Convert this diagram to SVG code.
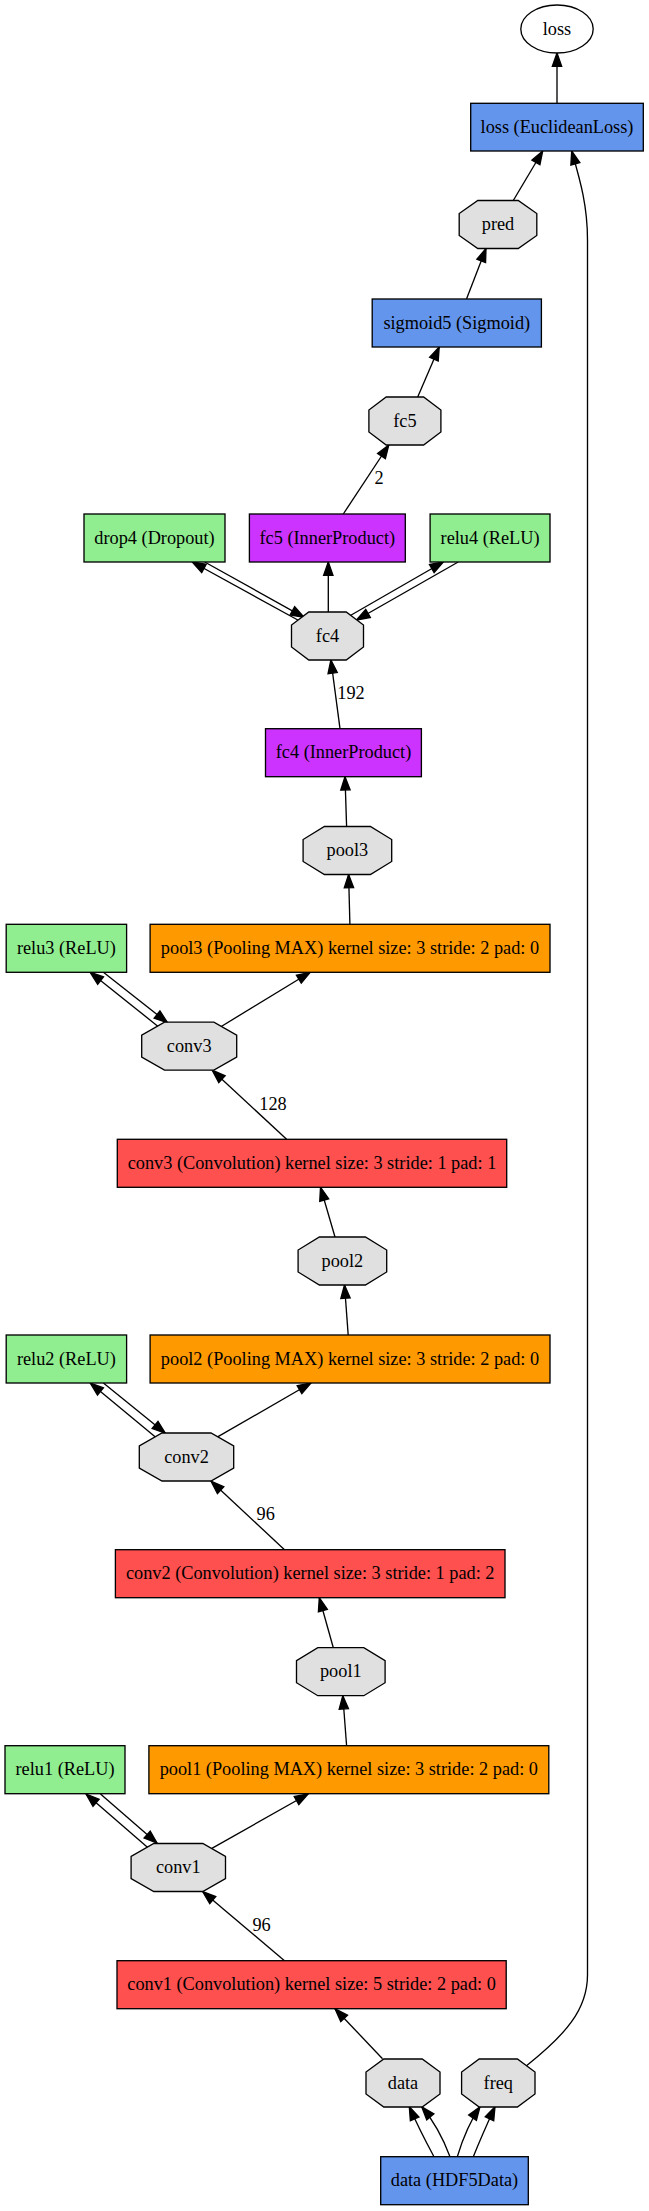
<svg xmlns="http://www.w3.org/2000/svg" width="649" height="2211" viewBox="0 0 649 2211">
<style>
.n{stroke:#000;stroke-width:1.33}
.blob{fill:#E0E0E0}
.blue{fill:#6495ED}
.green{fill:#90EE90}
.purple{fill:#CC33FF}
.orange{fill:#FF9900}
.red{fill:#FF5050}
text{font-family:"Liberation Serif","Times New Roman",serif;font-size:18.3px;fill:#000;text-anchor:middle}
.e path,.e line{stroke:#000;stroke-width:1.33;fill:none;marker-end:url(#ah)}
</style>
<defs>
<marker id="ah" markerUnits="userSpaceOnUse" markerWidth="16" markerHeight="12" viewBox="-15 -6 16 12" refX="0" refY="0" orient="auto">
<path d="M0,0 L-13.3,-4.67 L-13.3,4.67 z" fill="#000" stroke="#000" stroke-width="1.33"/>
</marker>
</defs>
<rect width="649" height="2211" fill="#fff"/>
<g class="e" id="connectors">
<line x1="557" y1="103.3" x2="557" y2="53"/>
<line x1="513.3" y1="200.5" x2="542.7" y2="151"/>
<path d="M526.5,2065.7 C565,2035 587.5,2010 587.5,1975 L587.5,240 C587.5,205 580,180 571.7,151"/>
<line x1="466.5" y1="299" x2="486" y2="248.5"/>
<line x1="417.7" y1="397" x2="439.2" y2="347"/>
<line x1="343.3" y1="514" x2="388.8" y2="445"/>
<line x1="328.3" y1="612" x2="328.3" y2="562"/>
<line x1="297.8" y1="620" x2="192.3" y2="562"/>
<line x1="204.7" y1="562" x2="304" y2="617.3"/>
<line x1="349.5" y1="616" x2="443.3" y2="562"/>
<line x1="458.2" y1="562" x2="356.5" y2="620"/>
<line x1="340" y1="728.7" x2="330.9" y2="660"/>
<line x1="346.6" y1="826.5" x2="345" y2="776.7"/>
<line x1="349.9" y1="924.3" x2="348.6" y2="874.5"/>
<line x1="158.4" y1="1026.7" x2="90.2" y2="972.3"/>
<line x1="103.4" y1="972.3" x2="167.5" y2="1022.7"/>
<line x1="219.2" y1="1027.7" x2="310.2" y2="972.3"/>
<line x1="286.6" y1="1139.3" x2="212.2" y2="1070.2"/>
<line x1="335" y1="1237" x2="320.5" y2="1187.3"/>
<line x1="348.2" y1="1335" x2="344.5" y2="1285"/>
<line x1="156.3" y1="1437.7" x2="90.2" y2="1383"/>
<line x1="103.4" y1="1383" x2="165.4" y2="1433.3"/>
<line x1="216.3" y1="1437.7" x2="311" y2="1383"/>
<line x1="284.5" y1="1549.7" x2="210.9" y2="1481"/>
<line x1="333.3" y1="1647.7" x2="319.3" y2="1597.7"/>
<line x1="346.6" y1="1745.7" x2="342.8" y2="1695.7"/>
<line x1="148" y1="1847.7" x2="86" y2="1794"/>
<line x1="100.5" y1="1794" x2="157.2" y2="1843.3"/>
<line x1="210.1" y1="1849.3" x2="308.1" y2="1794"/>
<line x1="284.5" y1="1960.7" x2="202.6" y2="1891.5"/>
<line x1="382.5" y1="2058.7" x2="335" y2="2008.7"/>
<path d="M434,2156.7 C425,2140 416,2122 409.3,2106.7"/>
<path d="M450,2156.7 C443,2138 433,2120 421.7,2106.7"/>
<path d="M457.3,2156.7 C463,2138 471,2120 480,2106.7"/>
<path d="M473.3,2156.7 C480,2140 488,2122 495,2106.7"/>
<text x="379" y="484">2</text>
<text x="351" y="699">192</text>
<text x="273" y="1110">128</text>
<text x="265.7" y="1520">96</text>
<text x="261.6" y="1930.5">96</text>
</g>
<g id="loss"><ellipse class="n" cx="557" cy="29" rx="36.2" ry="24" fill="#fff"/><text x="557" y="34.5">loss</text></g>
<g id="loss_layer"><rect class="n blue" x="470.7" y="103.3" width="172.6" height="47.7"/><text x="557" y="132.7">loss (EuclideanLoss)</text></g>
<g id="pred"><polygon class="n blob" points="477.8,200.5 518.2,200.5 536.8,213.5 536.8,235.5 518.2,248.5 477.8,248.5 459.2,235.5 459.2,213.5"/><text x="498" y="230">pred</text></g>
<g id="sigmoid5"><rect class="n blue" x="372.2" y="299" width="169.2" height="48"/><text x="456.8" y="328.5">sigmoid5 (Sigmoid)</text></g>
<g id="fc5"><polygon class="n blob" points="386.2,397 423.6,397 440.9,410 440.9,432 423.6,445 386.2,445 368.9,432 368.9,410"/><text x="404.9" y="426.5">fc5</text></g>
<g id="drop4"><rect class="n green" x="84" y="514" width="141" height="48"/><text x="154.5" y="543.5">drop4 (Dropout)</text></g>
<g id="fc5_layer"><rect class="n purple" x="249.4" y="514" width="155.9" height="48"/><text x="327.3" y="543.5">fc5 (InnerProduct)</text></g>
<g id="relu4"><rect class="n green" x="430.1" y="514" width="119.9" height="48"/><text x="490.1" y="543.5">relu4 (ReLU)</text></g>
<g id="fc4"><polygon class="n blob" points="308.8,612 346.2,612 363.5,625 363.5,647 346.2,660 308.8,660 291.5,647 291.5,625"/><text x="327.5" y="641.5">fc4</text></g>
<g id="fc4_layer"><rect class="n purple" x="265.5" y="728.7" width="155.9" height="48"/><text x="343.5" y="758.2">fc4 (InnerProduct)</text></g>
<g id="pool3"><polygon class="n blob" points="324.4,826.5 370.4,826.5 391.7,839.5 391.7,861.5 370.4,874.5 324.4,874.5 303.1,861.5 303.1,839.5"/><text x="347.4" y="856">pool3</text></g>
<g id="relu3"><rect class="n green" x="6.2" y="924.3" width="120.4" height="48"/><text x="66.4" y="953.8">relu3 (ReLU)</text></g>
<g id="pool3_layer"><rect class="n orange" x="150.1" y="924.3" width="399.9" height="48"/><text x="350" y="953.8">pool3 (Pooling MAX) kernel size: 3 stride: 2 pad: 0</text></g>
<g id="conv3"><polygon class="n blob" points="164.5,1022.2 213.9,1022.2 236.7,1035.2 236.7,1057.2 213.9,1070.2 164.5,1070.2 141.7,1057.2 141.7,1035.2"/><text x="189.2" y="1051.7">conv3</text></g>
<g id="conv3_layer"><rect class="n red" x="117.3" y="1139.3" width="389.4" height="48"/><text x="312" y="1168.8">conv3 (Convolution) kernel size: 3 stride: 1 pad: 1</text></g>
<g id="pool2"><polygon class="n blob" points="319.4,1237 365.4,1237 386.7,1250 386.7,1272 365.4,1285 319.4,1285 298.1,1272 298.1,1250"/><text x="342.4" y="1266.5">pool2</text></g>
<g id="relu2"><rect class="n green" x="6.2" y="1335" width="120.4" height="48"/><text x="66.4" y="1364.5">relu2 (ReLU)</text></g>
<g id="pool2_layer"><rect class="n orange" x="150.1" y="1335" width="399.9" height="48"/><text x="350" y="1364.5">pool2 (Pooling MAX) kernel size: 3 stride: 2 pad: 0</text></g>
<g id="conv2"><polygon class="n blob" points="162,1433 211,1433 233.7,1446 233.7,1468 211,1481 162,1481 139.3,1468 139.3,1446"/><text x="186.5" y="1462.5">conv2</text></g>
<g id="conv2_layer"><rect class="n red" x="115.4" y="1549.7" width="389.6" height="48"/><text x="310.2" y="1579.2">conv2 (Convolution) kernel size: 3 stride: 1 pad: 2</text></g>
<g id="pool1"><polygon class="n blob" points="317.8,1647.7 363.8,1647.7 385.1,1660.7 385.1,1682.7 363.8,1695.7 317.8,1695.7 296.5,1682.7 296.5,1660.7"/><text x="340.8" y="1677.2">pool1</text></g>
<g id="relu1"><rect class="n green" x="5" y="1745.7" width="120" height="48"/><text x="65" y="1775.2">relu1 (ReLU)</text></g>
<g id="pool1_layer"><rect class="n orange" x="148.9" y="1745.7" width="399.9" height="48"/><text x="348.8" y="1775.2">pool1 (Pooling MAX) kernel size: 3 stride: 2 pad: 0</text></g>
<g id="conv1"><polygon class="n blob" points="153.8,1843.5 202.8,1843.5 225.5,1856.5 225.5,1878.5 202.8,1891.5 153.8,1891.5 131.1,1878.5 131.1,1856.5"/><text x="178.3" y="1873">conv1</text></g>
<g id="conv1_layer"><rect class="n red" x="117" y="1960.7" width="389.2" height="48"/><text x="311.6" y="1990.2">conv1 (Convolution) kernel size: 5 stride: 2 pad: 0</text></g>
<g id="data"><polygon class="n blob" points="383.8,2059 422.2,2059 440,2072 440,2094 422.2,2107 383.8,2107 366,2094 366,2072"/><text x="403" y="2088.5">data</text></g>
<g id="freq"><polygon class="n blob" points="479.2,2059 517.4,2059 535,2072 535,2094 517.4,2107 479.2,2107 461.6,2094 461.6,2072"/><text x="498.3" y="2088.5">freq</text></g>
<g id="data_layer"><rect class="n blue" x="380.7" y="2156.7" width="147.6" height="48"/><text x="454.5" y="2186.3">data (HDF5Data)</text></g>
</svg>
